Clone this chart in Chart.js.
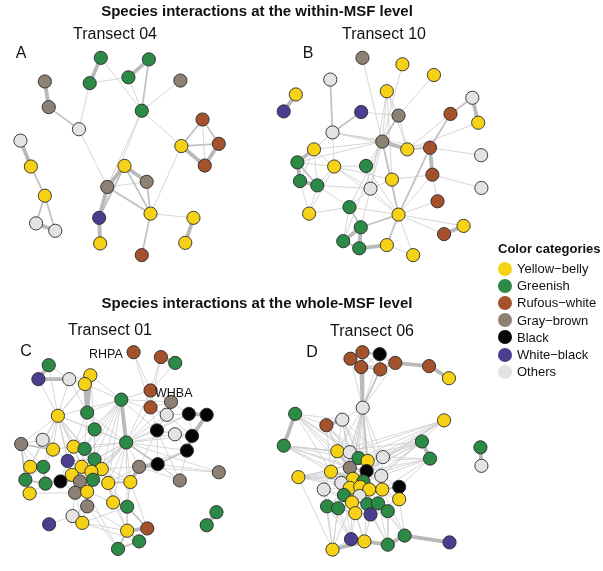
<!DOCTYPE html>
<html lang="en">
<head>
<meta charset="UTF-8">
<title>Species interactions</title>
<script src="https://cdn.jsdelivr.net/npm/chart.js"></script>
<style>
  body { margin: 0; background: #fff; font-family: 'Liberation Sans', Arial, sans-serif; }
  #wrap { position: relative; width: 603px; height: 571px; overflow: hidden; }
  #net { position: absolute; left: 0; top: 0; }
  .t { position: absolute; white-space: nowrap; color: #111; line-height: 1; }
  .title { font-weight: bold; font-size: 15px; transform: translate(-50%, -50%); }
  .sub { font-size: 16px; transform: translate(-50%, -50%); }
  .letter { font-size: 16px; transform: translate(-50%, -50%); }
  .code { font-size: 12.5px; transform: translateY(-50%); }
  #legend { position: absolute; left: 498px; top: 241px; font-size: 13px; color: #111; }
  #legend .head { font-weight: bold; margin-bottom: 4px; }
  #legend .row { height: 17.2px; display: flex; align-items: center; }
  #legend .dot { width: 14px; height: 14px; border-radius: 50%; margin-right: 5px; }
</style>
</head>
<body>
<div id="wrap">
  <canvas id="net" width="603" height="571"></canvas>

  <div class="t title" style="left:257px; top:10px;">Species interactions at the within-MSF level</div>
  <div class="t title" style="left:257px; top:302px;">Species interactions at the whole-MSF level</div>

  <div class="t sub" style="left:115px; top:34px;">Transect 04</div>
  <div class="t sub" style="left:384px; top:34px;">Transect 10</div>
  <div class="t sub" style="left:110px; top:330px;">Transect 01</div>
  <div class="t sub" style="left:372px; top:331px;">Transect 06</div>

  <div class="t letter" style="left:21px; top:53px;">A</div>
  <div class="t letter" style="left:308px; top:53px;">B</div>
  <div class="t letter" style="left:26px; top:351px;">C</div>
  <div class="t letter" style="left:312px; top:352px;">D</div>

  <div class="t code" style="left:89px; top:354px;">RHPA</div>
  <div class="t code" style="left:155px; top:393px;">WHBA</div>

  <div id="legend"></div>
</div>

<script>
// colour categories
const categoryNames = ['Yellow\u2212belly', 'Greenish', 'Rufous\u2212white', 'Gray\u2212brown', 'Black', 'White\u2212black', 'Others'];
const categoryColors = ['#f5d216', '#2b8a45', '#a4522b', '#8d8173', '#050505', '#4a3f8e', '#e3e3e3'];

// node layouts (x, y in page units) and colour category per node
// A - Transect 04
const nodesA = [
  [95.7, 51.7, 1], [145, 53.3, 1], [38.3, 76, 3], [84.3, 77.7, 1], [124, 71.7, 1],
  [177.3, 75, 3], [42.3, 102.3, 3], [137.7, 106, 1], [73.3, 125, 6], [200, 115, 2],
  [13.3, 136.7, 6], [178.3, 142.3, 0], [216.7, 140, 2], [24, 163.3, 0], [120, 162.7, 0],
  [202.3, 162.3, 2], [142.7, 179, 3], [102.3, 184.3, 3], [38.3, 193.3, 0], [146.7, 211.7, 0],
  [190.7, 216, 0], [94, 216, 5], [29.3, 221.7, 6], [49, 229.3, 6], [95, 242.3, 0],
  [182.3, 241.7, 0], [137.7, 254.3, 2]
];
// edges: [from, to, strength 1-3], node numbers start at 1
const edgesA = [
  [1,4,3],[1,8,1],[2,5,3],[2,8,2],[4,5,1],[5,8,1],[6,8,1],[4,9,1],[3,7,3],[7,9,2],
  [9,18,1],[8,12,1],[8,18,1],[8,22,1],[12,10,2],[12,13,2],[12,16,3],[10,13,2],[10,16,1],
  [13,16,3],[12,20,1],[11,14,3],[14,19,2],[19,23,2],[19,24,2],[23,24,3],[15,18,3],
  [15,17,3],[15,20,2],[18,17,1],[18,20,2],[17,20,2],[18,22,3],[15,22,2],[22,25,3],
  [20,21,1],[21,26,3],[20,27,2]
];

// B - Transect 10
const nodesB = [
  [364, 51.7, 3], [405, 58.3, 0], [437.3, 69.3, 0], [331, 74, 6], [389, 86, 0],
  [295.7, 89.3, 0], [476.7, 92.7, 6], [283.3, 106.7, 5], [362.7, 107.3, 5], [401, 111, 3],
  [454.3, 109.3, 2], [482.7, 118.3, 0], [333.3, 128.3, 6], [384.3, 137.7, 3], [410, 145.7, 0],
  [433.3, 144, 2], [314.3, 145.7, 0], [485.7, 151.7, 6], [297.3, 159, 1], [335, 163.3, 0],
  [367.7, 162.7, 1], [435.7, 171.7, 2], [394.3, 176.7, 0], [300, 178.3, 1], [317.7, 182.7, 1],
  [372.3, 186, 6], [486, 185.3, 6], [441, 199, 2], [350.7, 205, 1], [309.3, 211.7, 0],
  [401, 212.7, 0], [362.3, 225.7, 1], [467.7, 224.3, 0], [447.7, 232.7, 2], [344.3, 240, 1],
  [389, 244, 0], [360.7, 247.3, 1], [416, 254.3, 0]
];
const edgesB = [
  [6,8,3],[4,13,2],[9,13,2],[1,14,1],[2,14,1],[3,10,1],[5,14,1],[5,10,1],[5,15,1],[5,23,1],
  [5,26,1],[9,10,1],[10,14,2],[10,15,1],[7,11,2],[7,12,3],[11,16,2],[16,22,3],[22,28,1],
  [14,15,3],[15,16,2],[13,16,1],[16,18,1],[22,27,1],[23,22,1],[19,24,3],[17,19,3],[17,20,1],
  [24,25,3],[19,25,2],[20,25,1],[20,21,1],[21,26,1],[25,26,1],[26,31,1],[29,32,2],[32,35,3],
  [35,37,2],[32,37,3],[37,36,3],[36,38,1],[31,36,2],[31,38,1],[31,32,2],[29,31,1],[14,31,2],
  [33,34,3],[31,33,1],[29,25,1],[30,20,1],[30,29,1],[14,26,1],[14,21,1],[14,17,1],[14,29,1],
  [16,31,2],[13,17,1],[13,20,1],[13,14,1],[13,15,1],[17,24,1],[17,25,1],[19,20,1],[24,30,1],
  [25,30,1],[20,26,1],[23,26,1],[23,31,1],[23,14,1],[26,29,1],[29,35,1],[26,32,1],[12,15,1],
  [31,34,1],[22,31,1],[28,31,1],[21,31,1],[20,31,1],[14,35,1],[11,15,1],[14,19,1],[20,23,1]
];

// C - Transect 01
const nodesC = [
  [129.3, 354, 2], [157.3, 359, 2], [172, 365, 1], [42.3, 367.3, 1], [31.7, 381.7, 5],
  [63.3, 381.7, 6], [85, 377.7, 0], [79.3, 386.7, 0], [146.7, 393.3, 2], [116.7, 402.7, 1],
  [167.7, 405, 3], [146.7, 410.7, 2], [51.7, 419.3, 0], [81.7, 416, 1], [163.3, 418.3, 6],
  [186, 417.3, 4], [204.3, 418.3, 4], [89.3, 433.3, 1], [153.3, 434.3, 4], [171.7, 438.3, 6],
  [189.3, 440, 4], [36, 444, 6], [14, 448.3, 3], [121.7, 446.7, 1], [46.7, 454, 0],
  [67.7, 451, 0], [79, 453.3, 1], [184, 455, 4], [61.7, 465.7, 5], [89.3, 464, 1],
  [154, 469, 4], [23.3, 471.7, 0], [36.7, 471.7, 1], [76, 471.7, 0], [96.7, 474, 0],
  [135, 471.7, 3], [86, 476.7, 0], [66, 480, 0], [216.7, 477.3, 3], [18.3, 485, 1],
  [39, 489, 1], [54.3, 486.7, 4], [74.3, 486.7, 3], [87.7, 485, 1], [103.3, 488.3, 0],
  [126, 487.3, 0], [176.7, 485.7, 3], [22.7, 499, 0], [69.3, 498.3, 3], [81.7, 497.3, 0],
  [108.3, 508.3, 0], [81.7, 512.3, 3], [122.7, 512.7, 1], [214.3, 518.3, 1], [66.7, 522.3, 6],
  [42.7, 530.7, 5], [76.7, 529.3, 0], [204.3, 531.7, 1], [122.7, 537.3, 0], [143.3, 535, 2],
  [135, 548.3, 1], [113.3, 556, 1]
];
const edgesC = [
  [4,5,3],[4,6,1],[5,6,3],[6,7,1],[6,8,1],[7,8,3],[4,13,1],[5,13,1],[6,13,1],[7,13,1],
  [8,13,1],[6,14,1],[7,14,3],[8,14,3],[8,10,1],[1,9,1],[1,12,1],[2,3,3],[2,9,1],[3,9,1],
  [2,12,1],[9,10,1],[9,11,1],[10,11,1],[10,24,3],[10,14,1],[10,19,1],[10,15,1],[11,12,1],
  [11,15,1],[11,16,1],[12,15,1],[15,16,1],[16,17,3],[17,21,3],[16,21,1],[15,19,1],[19,20,1],
  [20,21,1],[19,21,1],[21,28,3],[28,31,2],[31,36,3],[19,31,1],[31,39,1],[36,39,1],[36,47,1],
  [28,47,1],[24,31,2],[24,36,1],[24,19,1],[14,18,1],[18,24,1],[18,13,1],[13,22,1],[13,23,1],
  [13,25,1],[13,26,1],[13,33,1],[13,32,1],[14,26,1],[14,27,1],[18,27,1],[18,30,1],[22,23,1],
  [22,25,1],[23,25,2],[23,32,1],[23,40,2],[25,33,1],[25,26,1],[26,29,1],[26,27,2],[27,30,1],
  [29,34,1],[29,30,1],[30,37,1],[30,35,1],[34,37,2],[37,38,1],[38,42,1],[38,43,1],[43,44,1],
  [44,45,1],[45,46,2],[35,45,1],[37,44,1],[32,33,2],[32,40,1],[33,40,1],[33,41,2],[40,41,2],
  [40,48,2],[41,48,1],[41,42,1],[42,43,1],[43,49,1],[49,50,1],[50,44,1],[49,52,1],[50,52,2],
  [52,55,1],[55,57,2],[55,56,1],[57,59,1],[59,60,3],[59,61,2],[61,62,2],[62,59,2],[53,60,2],
  [51,53,2],[51,45,1],[51,50,1],[53,46,1],[46,36,3],[46,24,1],[24,45,1],[35,24,1],[24,51,1],
  [54,58,3],[49,55,1],[52,57,1],[48,49,1],[42,49,1],[24,37,1],[24,34,1],[24,26,1],[24,43,1],
  [19,36,1],[15,24,1],[16,24,1],[11,24,1],[9,24,1],[22,29,1],[29,42,1],[24,49,1],[24,50,1],
  [13,27,1],[13,29,1],[13,34,1],[13,24,1],[10,18,1],[14,24,1],[27,35,1],[30,44,1],[35,36,1],
  [45,51,1],[57,61,1],[52,59,1],[52,62,1],[50,62,1],[53,59,1],[60,46,1],[10,13,1],[10,7,1],
  [24,47,1],[24,39,1],[36,28,1],[30,46,1],[34,46,1],[13,30,1],[23,33,1],[22,32,1],
  [10,26,1],[10,27,1],[10,30,1],[10,34,1],[10,35,1],[10,45,1],[24,30,1],[24,27,1],[24,44,1],
  [24,53,1],[24,28,1],[24,21,1],[24,20,1],[13,37,1],[13,35,1],[13,38,1],[7,18,1],[8,18,1],
  [26,34,1],[27,34,1],[35,37,1],[37,45,1],[44,50,1],[50,57,1],[49,57,1],[53,57,1],[53,45,1],
  [51,59,1],[45,59,1],[46,53,1],[35,51,1],[43,50,1],[36,45,1],[19,47,1],[31,47,1],[20,28,1],
  [16,19,1],[9,12,1],[11,19,1],[15,21,1],[12,19,1],[24,12,1]
];

// D - Transect 06
const nodesD = [
  [364, 354, 2], [381.7, 356, 4], [351.7, 360.7, 2], [397.7, 365, 2], [362.7, 369.3, 2],
  [382.3, 371.7, 2], [432.3, 368.3, 2], [452.7, 380.7, 0], [364.3, 411, 6], [295, 417.3, 1],
  [343.3, 423.3, 6], [447.7, 424, 0], [327, 429, 2], [283.3, 450, 1], [425, 445.7, 1],
  [485, 451.7, 1], [338.3, 455.7, 0], [351, 456.7, 6], [385, 461.7, 6], [433.3, 463.3, 1],
  [360, 462.7, 1], [369.3, 465.7, 0], [351, 472.7, 3], [486, 470.7, 6], [368.3, 476, 4],
  [331.7, 476.7, 0], [298.3, 482.3, 0], [383.3, 481, 6], [354.3, 484, 0], [342.3, 488.3, 6],
  [365, 486.7, 1], [401.7, 492.3, 4], [351, 493.3, 0], [361.7, 492.3, 0], [371, 495, 0],
  [384.3, 495, 0], [324.3, 495, 6], [345, 500.7, 1], [361, 501.7, 6], [401.7, 505, 0],
  [353.3, 508.3, 0], [369, 510, 1], [380, 509.3, 1], [327.7, 512.3, 1], [339, 514.3, 1],
  [390, 517.3, 1], [356.7, 519.3, 0], [372.3, 520.7, 5], [407.3, 542.3, 1], [352.3, 546, 5],
  [366, 548.3, 0], [390, 551.7, 1], [453.3, 549.3, 5], [333.3, 556.7, 0]
];
const edgesD = [
  [1,3,2],[1,2,2],[1,4,1],[1,5,2],[1,6,1],[2,4,1],[2,6,2],[3,5,2],[4,6,2],[5,6,2],[3,6,1],
  [2,5,1],[4,7,3],[7,8,3],[4,5,1],[9,1,3],[9,3,1],[9,4,1],[9,5,3],[9,6,2],[9,2,1],[9,11,1],
  [10,11,1],[10,13,1],[11,13,3],[10,14,3],[14,17,1],[14,26,1],[14,19,1],[14,22,1],[14,18,1],
  [10,17,1],[10,22,1],[10,21,1],[11,17,1],[11,18,1],[11,21,1],[11,22,1],[9,17,1],[9,18,1],
  [9,21,1],[9,22,2],[9,19,1],[9,25,1],[9,28,1],[9,23,1],[9,29,1],[13,17,1],[13,18,1],[13,23,1],
  [12,22,1],[12,19,1],[12,25,1],[12,18,1],[15,20,3],[15,19,1],[15,22,1],[15,25,1],[15,28,1],
  [20,19,1],[20,25,1],[20,28,1],[20,32,1],[16,24,3],[17,18,1],[17,23,2],[17,26,1],[18,21,1],
  [18,23,1],[21,22,2],[21,23,1],[22,25,2],[22,19,1],[19,28,1],[25,28,2],[23,25,2],[25,29,2],
  [23,29,2],[26,27,1],[27,29,1],[27,30,1],[27,28,1],[27,19,1],[26,30,1],[26,37,1],[29,30,1],
  [29,31,2],[29,33,1],[29,34,2],[31,35,1],[31,34,1],[28,36,1],[28,32,1],[32,36,2],[32,40,1],
  [36,40,1],[33,34,1],[34,35,1],[35,36,1],[37,38,1],[37,44,1],[38,39,1],[38,44,1],[38,45,1],
  [39,41,1],[39,42,1],[33,41,1],[34,39,2],[35,43,1],[36,43,1],[42,43,1],[43,46,1],[40,46,1],
  [41,47,1],[42,47,1],[42,48,1],[44,45,2],[45,47,1],[47,48,1],[48,46,1],[43,48,1],[44,54,1],
  [45,54,1],[45,50,1],[47,50,1],[47,51,1],[48,51,1],[48,52,1],[46,49,1],[46,52,1],[49,52,3],
  [49,53,3],[50,51,3],[51,54,3],[50,54,1],[51,52,3],[41,50,1],[42,51,1],[40,49,1],[37,54,1],
  [30,54,1],[38,50,1],[36,49,1],[43,52,1],[26,33,1],[30,33,1],[31,36,1],[25,36,1],[21,29,1],
  [23,30,1],[10,26,1],[13,26,1],[11,23,1],[17,29,1],[19,25,1],[22,28,1],[27,33,1],[26,29,2],
  [12,17,1],[12,21,1],[12,29,1],[12,28,1],[15,17,1],[15,21,1],[15,29,1],[15,34,1],[20,22,1],
  [20,36,1],[20,29,1],[10,18,1],[10,23,1],[10,29,1],[14,23,1],[14,29,1],[14,25,1],[11,25,1],
  [11,29,1],[11,19,1],[9,30,1],[9,31,1],[9,33,1],[13,21,1],[13,22,1],[27,22,1],[27,25,1],
  [27,31,1],[26,21,1],[44,33,1],[37,33,1],[37,41,1],[47,33,1],[41,45,1],[42,46,1],[46,32,1],
  [40,35,1],[36,31,1],[52,42,1],[49,43,1],[54,41,1],[50,44,1],[51,41,1],[37,50,1],[27,54,1],
  [44,47,1],[38,41,1]
];

const panels = [[nodesA, edgesA], [nodesB, edgesB], [nodesC, edgesC], [nodesD, edgesD]];

// line look per edge strength
const edgeStyle = {
  1: { width: 0.8, color: '#cdcdcd' },
  2: { width: 1.8, color: '#c2c2c2' },
  3: { width: 3.8, color: '#b9b9b9' }
};

const datasets = [];
panels.forEach(([nodes, edges]) => {
  [1, 2, 3].forEach(w => {
    const pts = [];
    edges.filter(e => e[2] === w).forEach(e => {
      const a = nodes[e[0] - 1], b = nodes[e[1] - 1];
      pts.push({ x: a[0], y: a[1] }, { x: b[0], y: b[1] }, { x: null, y: null });
    });
    datasets.push({
      data: pts,
      showLine: true,
      spanGaps: false,
      borderColor: edgeStyle[w].color,
      borderWidth: edgeStyle[w].width,
      pointRadius: 0,
      pointHoverRadius: 0,
      order: 5 - w,
      clip: false
    });
  });
  datasets.push({
    data: nodes.map(n => ({ x: n[0], y: n[1] })),
    showLine: false,
    pointRadius: 6.6,
    pointHoverRadius: 6.6,
    pointBackgroundColor: nodes.map(n => categoryColors[n[2]]),
    pointBorderColor: '#2a2a2a',
    pointBorderWidth: 0.9,
    order: 0,
    clip: false
  });
});

new Chart(document.getElementById('net'), {
  type: 'scatter',
  data: { datasets: datasets },
  options: {
    responsive: false,
    animation: false,
    events: [],
    layout: { padding: 0 },
    scales: {
      x: { type: 'linear', min: 0, max: 603, display: false },
      y: { type: 'linear', min: 0, max: 571, reverse: true, display: false }
    },
    plugins: { legend: { display: false }, tooltip: { enabled: false } }
  }
});

// colour legend
const legend = document.getElementById('legend');
legend.innerHTML = '<div class="head">Color categories</div>' +
  categoryNames.map((name, i) =>
    `<div class="row"><span class="dot" style="background:${categoryColors[i]}"></span>${name}</div>`
  ).join('');
</script>
</body>
</html>
